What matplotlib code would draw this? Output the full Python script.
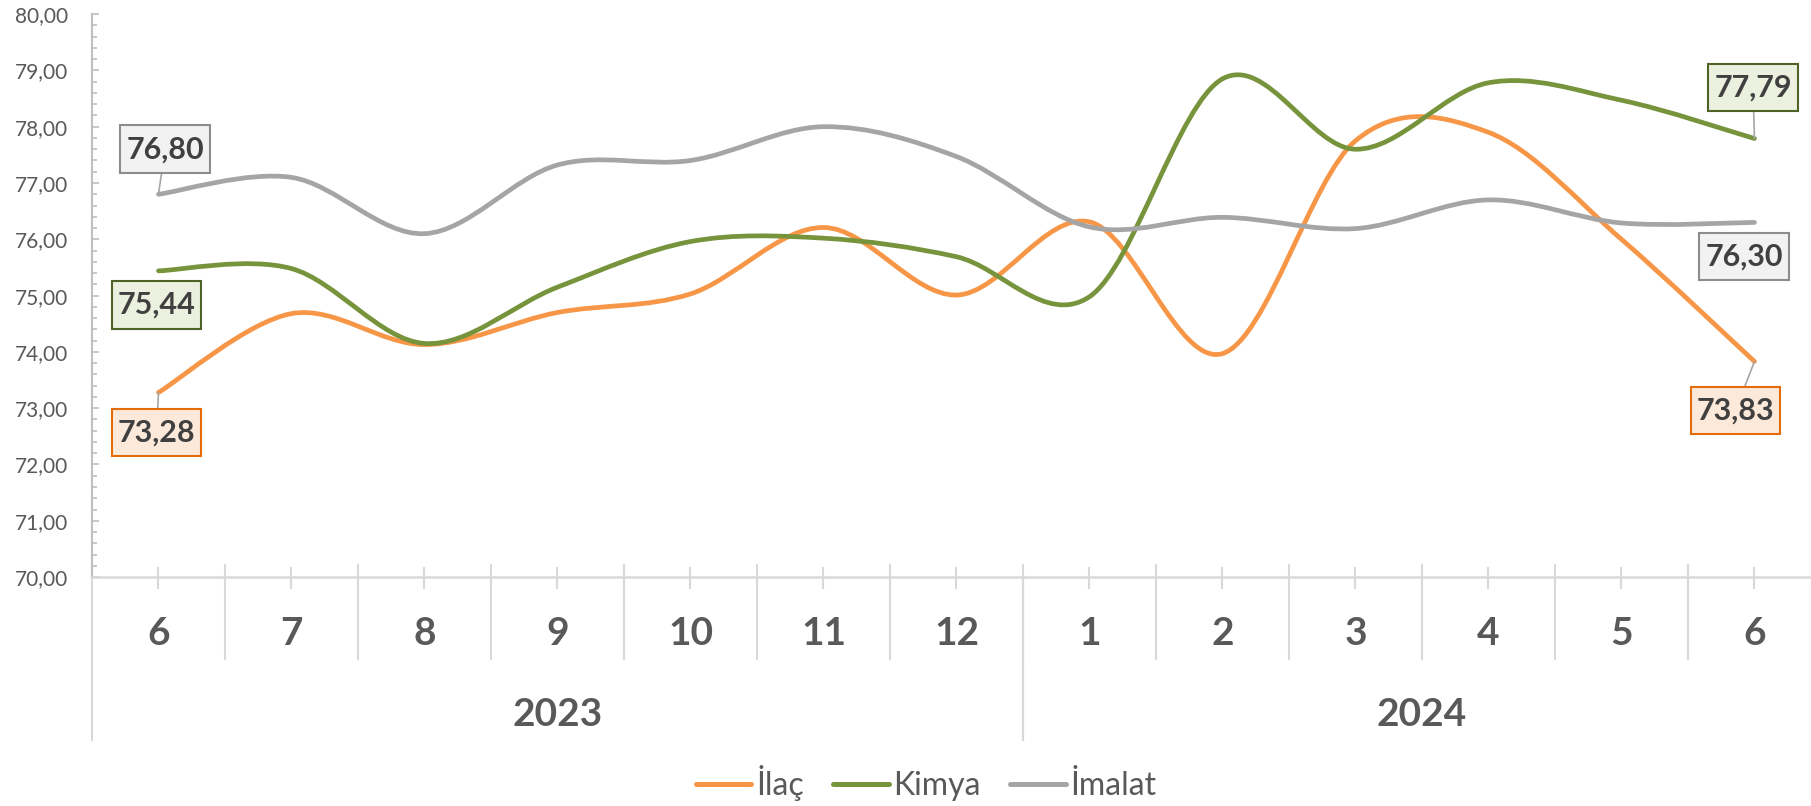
import numpy as np
import matplotlib
matplotlib.use("Agg")
import matplotlib.pyplot as plt
from matplotlib.path import Path
from matplotlib.patches import PathPatch
from matplotlib.lines import Line2D
from matplotlib.ticker import FuncFormatter, MultipleLocator

plt.rcParams['font.family'] = ['Lato', 'DejaVu Sans']

# -----------------------------
# data
# -----------------------------
months = ["6", "7", "8", "9", "10", "11", "12", "1", "2", "3", "4", "5", "6"]
years = ["2023", "2024"]
year_spans = [(0, 6), (7, 12)]

ilac = [73.28, 74.68, 74.13, 74.70, 75.03, 76.21, 75.01, 76.31, 73.97, 77.75, 77.90, 76.00, 73.83]
kimya = [75.44, 75.48, 74.15, 75.15, 75.96, 76.02, 75.69, 74.98, 78.85, 77.60, 78.78, 78.47, 77.79]
imalat = [76.80, 77.10, 76.10, 77.32, 77.40, 78.00, 77.47, 76.22, 76.39, 76.19, 76.70, 76.29, 76.30]

series_names = ["İlaç", "Kimya", "İmalat"]
line_colors = ["#F79646", "#77933C", "#A5A5A5"]
box_faces = ["#FDE9D9", "#EBF1DE", "#F2F2F2"]
box_edges = ["#E46C0A", "#4F6228", "#8C8C8C"]

# label offsets in pixels (first point, last point), and whether a leader line is drawn
label_offsets = {
    "İlaç": [((-2, -40), True), ((-19, -49), True)],
    "Kimya": [((-2, -34), False), ((-1.5, 51), True)],
    "İmalat": [((6.5, 45), True), ((-10.5, -34), False)],
}


def smooth_path(xs, ys):
    # Excel-like smoothed line: cubic bezier through every point
    verts = [(xs[0], ys[0])]
    codes = [Path.MOVETO]
    n = len(xs)
    for i in range(n - 1):
        a = i - 1 if i > 0 else i
        d = i + 2 if i + 2 < n else i + 1
        c1 = (xs[i] + (xs[i + 1] - xs[a]) / 6, ys[i] + (ys[i + 1] - ys[a]) / 6)
        c2 = (xs[i + 1] - (xs[d] - xs[i]) / 6, ys[i + 1] - (ys[d] - ys[i]) / 6)
        verts += [c1, c2, (xs[i + 1], ys[i + 1])]
        codes += [Path.CURVE4] * 3
    return Path(verts, codes)


def label_box(x0, y0, width, height, mutation_size):
    # fixed-size box (relative to font size) centred on the text
    cx, cy = x0 + width / 2, y0 + height / 2
    hw, hh = 1.47 * mutation_size, 0.78 * mutation_size
    return Path([(cx - hw, cy - hh), (cx + hw, cy - hh), (cx + hw, cy + hh),
                 (cx - hw, cy + hh), (cx - hw, cy - hh)], closed=True)


fig = plt.figure(figsize=(18.11, 8.06), dpi=100)
ax = fig.add_axes([0.0508, 0.284, 0.9547, 0.6985])

x = np.arange(len(months))
handles = []
for name, vals, col in zip(series_names, [ilac, kimya, imalat], line_colors):
    patch = PathPatch(smooth_path(x, vals), facecolor="none", edgecolor=col,
                      lw=3.4, capstyle="round", joinstyle="round", zorder=3)
    ax.add_patch(patch)
    handles.append(Line2D([], [], color=col, lw=3.6, solid_capstyle="round", label=name))

ax.set_xlim(-0.5, len(months) - 0.5)
ax.set_ylim(70, 80)

# y axis
ax.yaxis.set_major_locator(MultipleLocator(1))
ax.yaxis.set_minor_locator(MultipleLocator(0.2))
ax.yaxis.set_major_formatter(FuncFormatter(lambda v, p: f"{v:.2f}".replace(".", ",")))
ax.tick_params(axis="y", which="major", direction="in", length=5, width=1.2,
               color="#BFBFBF", labelsize=15, labelcolor="#595959", pad=17)
ax.tick_params(axis="y", which="minor", direction="in", length=3.5, width=1.2, color="#BFBFBF")
ax.set_xticks([])

for s in ["top", "right"]:
    ax.spines[s].set_visible(False)
ax.spines["left"].set_color("#BFBFBF")
ax.spines["left"].set_linewidth(1.5)
ax.spines["bottom"].set_color("#D9D9D9")
ax.spines["bottom"].set_linewidth(1.8)

# category axis (two levels)
trans = ax.get_xaxis_transform()
grid_col = "#D9D9D9"
for i in range(len(months) + 1):
    ax.plot([i - 0.5, i - 0.5], [0.0213, -0.1456], transform=trans, color=grid_col,
            lw=1.5, clip_on=False)
for i in range(len(months)):
    ax.plot([i, i], [0.016, -0.0195], transform=trans, color=grid_col, lw=1.5, clip_on=False)
    ax.text(i, -0.0995, months[i], transform=trans, ha="center", va="center",
            fontsize=28, fontweight="bold", color="#595959")
for yr, (a, b) in zip(years, year_spans):
    ax.plot([a - 0.5, a - 0.5], [0, -0.2895], transform=trans, color=grid_col, lw=1.5, clip_on=False)
    ax.plot([b + 0.5, b + 0.5], [0, -0.2895], transform=trans, color=grid_col, lw=1.5, clip_on=False)
    ax.text((a + b) / 2, -0.2433, yr, transform=trans, ha="center", va="center",
            fontsize=28, fontweight="bold", color="#595959")

# data labels at first and last points
for k, (name, vals) in enumerate(zip(series_names, [ilac, kimya, imalat])):
    for (off, leader), idx in zip(label_offsets[name], [0, len(vals) - 1]):
        txt = f"{vals[idx]:.2f}".replace(".", ",")
        arrow = dict(arrowstyle="-", color="#A6A6A6", lw=1.2, shrinkA=0, shrinkB=0) if leader else None
        ax.annotate(txt, xy=(idx, vals[idx]), xytext=off, textcoords="offset pixels",
                    ha="center", va="center", fontsize=22, fontweight="bold", color="#404040",
                    bbox=dict(boxstyle=label_box, fc=box_faces[k], ec=box_edges[k], lw=1.5),
                    arrowprops=arrow, zorder=5, annotation_clip=False)

fig.legend(handles=handles, loc="center", bbox_to_anchor=(926 / 1811, 1 - 783 / 806),
           ncol=3, frameon=False, fontsize=23, handlelength=1.75, handletextpad=0.15,
           columnspacing=0.9, labelcolor="#595959")

fig.savefig("out.png", dpi=100)
